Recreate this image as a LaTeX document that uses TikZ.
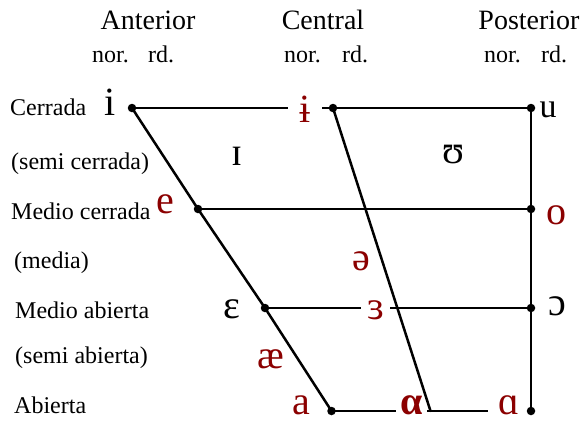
\documentclass[tikz,border=0pt]{standalone}
\usepackage{fontspec}
\setmainfont{Liberation Serif}
\definecolor{vred}{RGB}{139,0,0}
\tikzset{
  rowlab/.style={anchor=base west, inner sep=0pt, font=\fontsize{24}{28}\selectfont},
  headlab/.style={anchor=base, inner sep=0pt, font=\fontsize{28}{32}\selectfont},
  sublab/.style={anchor=base west, inner sep=0pt, font=\fontsize{24}{28}\selectfont},
  vow/.style={anchor=base, inner sep=0pt, font=\fontsize{40}{44}\selectfont},
  vowr/.style={vow, text=vred},
  gapfill/.style={fill=white, inner ysep=0pt},
  chart/.style={line width=2.5pt, line cap=round},
  dotmark/.style={circle, fill=black, inner sep=0pt, minimum size=8.5pt}
}
\begin{document}
\begin{tikzpicture}[x=1pt,y=-1pt]
\useasboundingbox (0,0) rectangle (582,423);
% corner / junction coordinates
\coordinate (pi) at (132,108);
\coordinate (pc) at (333,108);
\coordinate (pu) at (531,108);
\coordinate (pe) at (198,209);
\coordinate (po) at (531,209);
\coordinate (pE) at (265,308);
\coordinate (pO) at (531,308);
\coordinate (pa) at (331.5,411);
\coordinate (pcb) at (430.5,411);
\coordinate (pA) at (531,411);
% headers
\node[headlab] (hant) at (148,29) {Anterior};
\node[headlab] (hcen) at (323,29) {Central};
\node[headlab] (hpos) at (529,29) {Posterior};
\node[sublab] (n1) at (92,62) {nor.};
\node[sublab] (r1) at (148,62) {rd.};
\node[sublab] (n2) at (284,62) {nor.};
\node[sublab] (r2) at (342,62) {rd.};
\node[sublab] (n3) at (484,62) {nor.};
\node[sublab] (r3) at (541,62) {rd.};
% row labels
\node[rowlab] (l1) at (10,115) {Cerrada};
\node[rowlab] (l2) at (11,169) {(semi cerrada)};
\node[rowlab] (l3) at (11,219) {Medio cerrada};
\node[rowlab] (l4) at (14,268) {(media)};
\node[rowlab] (l5) at (15,318) {Medio abierta};
\node[rowlab] (l6) at (15,363) {(semi abierta)};
\node[rowlab] (l7) at (14,413) {Abierta};
% lines (behind the gap labels)
\draw[chart] (pi) -- (pu);
\draw[chart] (pe) -- (po);
\draw[chart] (pE) -- (pO);
\draw[chart] (pa) -- (pA);
\draw[chart] (pi) -- (pe) -- (pE) -- (pa);
% vowels
\node[vow] (vi) at (110,115) {i};
\node[vowr, gapfill, inner xsep=11pt] (vbi) at (305,122) {ɨ};
\node[vow, font=\fontsize{34}{38}\selectfont] (vu) at (548,117) {u};
\node[vow] (vI) at (237,165) {ɪ};
\node[vow] (vU) at (453,163) {ʊ};
\node[vowr] (ve) at (165.5,213) {e};
\node[vowr] (vo) at (556.5,224) {o};
\node[vowr] (vschwa) at (361,270) {ə};
\node[vow] (veps) at (231.5,318) {ɛ};
\node[vowr, gapfill, inner xsep=6pt] (vrev) at (375.5,319) {ɜ};
\node[vow] (vopen) at (557.5,315) {ɔ};
\node[vowr] (vae) at (271,368) {æ};
\node[vowr] (va) at (301,414) {a};
\node[vowr, gapfill, inner xsep=4pt, font=\fontsize{40}{44}\selectfont\bfseries] (valpha) at (411.5,414) {α};
\node[vowr, gapfill, inner xsep=11pt] (vback) at (509,414) {ɑ};
% lines drawn over the labels
\draw[chart] (pc) -- (pcb);
\draw[chart] (pu) -- (pA);
% dots
\foreach \p in {pi,pc,pu,pe,po,pE,pO,pa,pA}
  \node[dotmark] at (\p) {};
\end{tikzpicture}
\end{document}
